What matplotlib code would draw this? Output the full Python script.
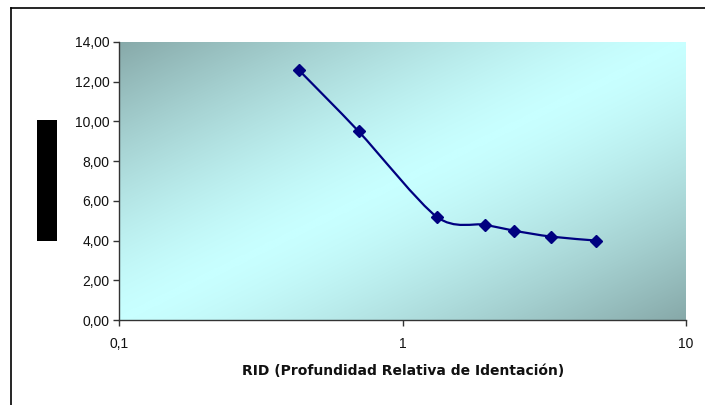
import numpy as np
import matplotlib
matplotlib.use("Agg")
import matplotlib.pyplot as plt
from matplotlib.path import Path
from matplotlib.patches import PathPatch, Rectangle
from matplotlib.lines import Line2D
from matplotlib.ticker import FuncFormatter, FixedLocator, NullLocator
from matplotlib.colors import LinearSegmentedColormap

# Data
rid = [0.43, 0.70, 1.32, 1.95, 2.47, 3.34, 4.82]
vals = [12.6, 9.5, 5.2, 4.8, 4.5, 4.2, 4.0]
x_ticks = [0.1, 1, 10]
x_tick_labels = ["0,1", "1", "10"]
y_ticks = [0, 2, 4, 6, 8, 10, 12, 14]
xlabel = "RID (Profundidad Relativa de Identación)"

plt.rcParams['font.family'] = ['Liberation Sans', 'DejaVu Sans']

W, H = 705, 405
fig = plt.figure(figsize=(W / 100, H / 100), dpi=100)
fig.patch.set_facecolor("white")

l, r, t, b = 119, 686, 42, 320
pos = [l / W, (H - b) / H, (r - l) / W, (b - t) / H]

# gradient background
bg = fig.add_axes(pos, zorder=0)
n = 300
u, v = np.meshgrid(np.linspace(0, 1, n), np.linspace(1, 0, n))
tval = np.abs(u - v)
cmap = LinearSegmentedColormap.from_list("g", ["#c8ffff", "#87a9a9"])
bg.imshow(tval ** 1.4, cmap=cmap, aspect="auto", extent=[0, 1, 0, 1], vmin=0, vmax=1,
          interpolation="bilinear")
bg.set_axis_off()

ax = fig.add_axes(pos, zorder=1)
ax.set_facecolor("none")
ax.set_xscale("log")
ax.set_xlim(0.1, 10)
ax.set_ylim(0, 14)

# Smoothed line (Excel-style Bezier through the data points)
lx = np.log10(rid)
P = np.column_stack([lx, vals])
verts = [P[0]]
codes = [Path.MOVETO]
k = 1 / 7
for i in range(len(P) - 1):
    p0 = P[i - 1] if i > 0 else P[i]
    p1 = P[i]
    p2 = P[i + 1]
    p3 = P[i + 2] if i + 2 < len(P) else P[i + 1]
    c1 = p1 + (p2 - p0) * k
    c2 = p2 - (p3 - p1) * k
    verts += [c1, c2, p2]
    codes += [Path.CURVE4] * 3
verts = np.array(verts)
verts[:, 0] = 10 ** verts[:, 0]
patch = PathPatch(Path(verts, codes), facecolor="none", edgecolor="#000080",
                  lw=1.6, transform=ax.transData, zorder=3)
ax.add_patch(patch)
ax.plot(rid, vals, linestyle="none", marker="D", color="#000080",
        markersize=6.5, zorder=4)

for s in ["top", "right"]:
    ax.spines[s].set_visible(False)
for s in ["left", "bottom"]:
    ax.spines[s].set_color("#333333")
    ax.spines[s].set_linewidth(1.0)

ax.xaxis.set_major_locator(FixedLocator(x_ticks))
ax.xaxis.set_minor_locator(NullLocator())
ax.set_xticklabels(x_tick_labels)
ax.set_yticks(y_ticks)
ax.yaxis.set_major_formatter(FuncFormatter(lambda y, p: f"{y:.2f}".replace(".", ",")))
ax.tick_params(axis="both", direction="out", length=4, width=1, color="#333333",
               labelsize=10, labelcolor="#111111")
ax.tick_params(axis="y", pad=3)
ax.tick_params(axis="x", pad=8)

fig.text(403 / W, 1 - 371 / H, xlabel, ha="center", va="center",
         fontsize=10, fontweight="bold", color="#111111",
         family=["DejaVu Sans"])

# black box (y label)
fig.add_artist(Rectangle((37 / W, 1 - 241 / H), 20 / W, 121 / H,
                         transform=fig.transFigure, facecolor="black",
                         edgecolor="none"))
# outer frame (top and left edges)
fig.add_artist(Line2D([11 / W, 1], [1 - 7.5 / H, 1 - 7.5 / H],
                      transform=fig.transFigure, color="black", lw=1.2))
fig.add_artist(Line2D([11 / W, 11 / W], [0, 1 - 7.5 / H],
                      transform=fig.transFigure, color="black", lw=1.2))

fig.savefig("out.png", dpi=100)
